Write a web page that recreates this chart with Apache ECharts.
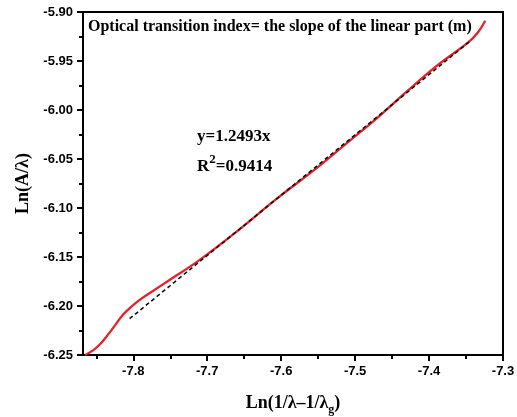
<!DOCTYPE html>
<html>
<head>
<meta charset="utf-8">
<script src="https://cdn.jsdelivr.net/npm/echarts@6/dist/echarts.min.js"></script>
<style>
html, body { margin: 0; padding: 0; background: #fff; }
#chart { width: 517px; height: 417px; }
</style>
</head>
<body>
<div id="chart"></div>
<script>
// measured curve
const curveX = [-7.865, -7.854, -7.845, -7.835, -7.824, -7.814, -7.803, -7.790, -7.776, -7.750, -7.712, -7.665, -7.605, -7.550, -7.510, -7.470, -7.430, -7.388, -7.347, -7.334, -7.324];
const curveY = [-6.250, -6.245, -6.239, -6.230, -6.219, -6.209, -6.201, -6.193, -6.186, -6.173, -6.154, -6.127, -6.090, -6.058, -6.033, -6.008, -5.981, -5.954, -5.931, -5.921, -5.909];
// linear fit (dashed)
const fitX = [-7.805, -7.345];
const fitY = [-6.213, -5.930];
const xMajorTicks = [-7.8, -7.7, -7.6, -7.5, -7.4, -7.3];
const xMinorTicks = [-7.85, -7.75, -7.65, -7.55, -7.45, -7.35];

const serif = '"Liberation Serif", "DejaVu Serif", serif';
const sans = '"Liberation Sans", Arial, sans-serif';

const chart = echarts.init(document.getElementById('chart'));

const axisLine = { show: true, onZero: false, lineStyle: { color: '#000', width: 2 } };

chart.setOption({
  animation: false,
  grid: {
    left: 83, right: 14, top: 12, bottom: 62,
    outerBoundsMode: 'none',
    show: true, borderColor: '#000', borderWidth: 2
  },
  xAxis: [
    {
      type: 'value',
      min: -7.868,
      max: -7.3,
      position: 'bottom',
      axisLine: axisLine,
      splitLine: { show: false },
      axisTick: { show: true, length: 6, customValues: xMajorTicks, lineStyle: { color: '#000', width: 2 } },
      axisLabel: {
        customValues: xMajorTicks,
        margin: 10,
        color: '#000',
        fontFamily: sans,
        fontWeight: 'bold',
        fontSize: 13,
        formatter: v => v.toFixed(1)
      },
      name: '{a|Ln(1/λ–1/λ}{b|g}{a|)}',
      nameLocation: 'middle',
      nameGap: 39,
      nameTextStyle: {
        rich: {
          a: { fontFamily: serif, fontWeight: 'bold', fontSize: 18, color: '#000', verticalAlign: 'top' },
          b: { fontFamily: serif, fontWeight: 'bold', fontSize: 12, color: '#000', verticalAlign: 'top', padding: [10, 0, 0, 0] }
        }
      }
    },
    {
      type: 'value',
      min: -7.868,
      max: -7.3,
      position: 'bottom',
      axisLine: { show: false, onZero: false },
      splitLine: { show: false },
      axisTick: { show: true, length: 4, customValues: xMinorTicks, lineStyle: { color: '#000', width: 2 } },
      axisLabel: { show: false }
    }
  ],
  yAxis: {
    type: 'value',
    min: -6.25,
    max: -5.9,
    interval: 0.05,
    axisLine: axisLine,
    splitLine: { show: false },
    axisTick: { show: true, length: 6, lineStyle: { color: '#000', width: 2 } },
    minorTick: { show: true, splitNumber: 2, length: 4, lineStyle: { color: '#000', width: 2 } },
    axisLabel: {
      margin: 10,
      color: '#000',
      fontFamily: sans,
      fontWeight: 'bold',
      fontSize: 13,
      formatter: v => v.toFixed(2)
    },
    name: 'Ln(A/λ)',
    nameLocation: 'middle',
    nameGap: 46,
    nameTextStyle: { fontFamily: serif, fontWeight: 'bold', fontSize: 18, color: '#000' }
  },
  graphic: [
    {
      type: 'text',
      left: 88,
      top: 19,
      style: {
        text: 'Optical transition index= the slope of the linear part (m)',
        font: 'bold 16px ' + serif,
        fill: '#000'
      }
    },
    {
      type: 'text',
      left: 197,
      top: 128,
      style: {
        text: 'y=1.2493x',
        font: 'bold 17px ' + serif,
        fill: '#000'
      }
    },
    {
      type: 'text',
      left: 197,
      top: 153,
      style: {
        text: '{r|R}{s|2}{r|=0.9414}',
        fill: '#000',
        rich: {
          r: { fontFamily: serif, fontWeight: 'bold', fontSize: 17, verticalAlign: 'top', padding: [5, 0, 0, 0] },
          s: { fontFamily: serif, fontWeight: 'bold', fontSize: 13, verticalAlign: 'top' }
        }
      }
    }
  ],
  series: [
    {
      type: 'line',
      data: fitX.map((x, i) => [x, fitY[i]]),
      symbol: 'none',
      lineStyle: { color: '#111', width: 1.6, type: [4, 3] },
      z: 3
    },
    {
      type: 'line',
      data: curveX.map((x, i) => [x, curveY[i]]),
      symbol: 'none',
      smooth: 0.4,
      lineStyle: { color: '#e8202a', width: 2.3 },
      z: 2
    }
  ]
});
</script>
</body>
</html>
